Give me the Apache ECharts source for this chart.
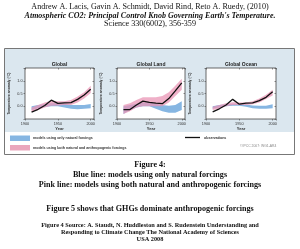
<!DOCTYPE html>
<html><head><meta charset="utf-8">
<script src="https://cdn.jsdelivr.net/npm/echarts@6/dist/echarts.min.js"></script>
<style>html,body{margin:0;padding:0;background:#fff}#c{width:300px;height:249px}</style>
</head><body><div id="c"></div>
<script>
const years = [1910,1920,1930,1940,1950,1960,1970,1980,1990,2000];
const panelTitles = ['Global','Global Land','Global Ocean'];
const xTicks = [1900,1950,2000];
const yTicks = ['0.0','0.5','1.0'];

const obsGlobal   = [-0.23,-0.12,0.03,0.24,0.11,0.13,0.14,0.27,0.44,0.67];
const natGlobalLo = [-0.15,-0.08,-0.03,0.00,0.00,-0.05,-0.10,-0.12,-0.10,-0.08];
const natGlobalHi = [0.00,0.05,0.08,0.12,0.13,0.10,0.05,0.05,0.05,0.09];
const allGlobalLo = [-0.22,-0.15,-0.05,0.02,0.03,0.05,0.05,0.15,0.30,0.52];
const allGlobalHi = [-0.05,0.05,0.15,0.22,0.20,0.20,0.25,0.38,0.55,0.80];

const obsLand   = [-0.13,-0.13,0.05,0.20,0.15,0.12,0.10,0.30,0.60,0.92];
const natLandLo = [-0.30,-0.15,-0.05,0.00,0.00,-0.10,-0.20,-0.25,-0.25,-0.15];
const natLandHi = [0.00,0.05,0.10,0.15,0.15,0.10,0.05,0.02,0.05,0.20];
const allLandLo = [-0.30,-0.20,-0.05,0.00,0.00,0.00,0.00,0.15,0.40,0.65];
const allLandHi = [0.05,0.12,0.25,0.35,0.35,0.35,0.40,0.55,0.80,1.08];

const obsOcean   = [-0.22,-0.10,0.05,0.27,0.08,0.12,0.13,0.22,0.35,0.57];
const natOceanLo = [-0.10,-0.05,0.00,0.02,0.02,-0.02,-0.08,-0.10,-0.10,-0.08];
const natOceanHi = [0.00,0.05,0.08,0.10,0.10,0.07,0.03,0.02,0.02,0.08];
const allOceanLo = [-0.15,-0.10,0.00,0.05,0.05,0.05,0.08,0.15,0.28,0.42];
const allOceanHi = [-0.02,0.05,0.12,0.16,0.15,0.15,0.20,0.30,0.45,0.65];

const panels = [
  {obs:obsGlobal, nLo:natGlobalLo, nHi:natGlobalHi, aLo:allGlobalLo, aHi:allGlobalHi, left:25, width:69},
  {obs:obsLand, nLo:natLandLo, nHi:natLandHi, aLo:allLandLo, aHi:allLandHi, left:117, width:68},
  {obs:obsOcean, nLo:natOceanLo, nHi:natOceanHi, aLo:allOceanLo, aHi:allOceanHi, left:206, width:70}
];
const TOP = 68, H = 51;
const BLUE = '#86b6e2', PINK = 'rgba(234,150,182,0.75)';
const sans = 'Liberation Sans';
const serif = 'Liberation Serif';

const grid = [], xAxis = [], yAxis = [], series = [], graphic = [];
const pair = (arr) => years.map((y,i)=>[y,arr[i]]);

function bandSeries(lo, hi, xi, yi, color, z){
  return {type:'custom', xAxisIndex:xi, yAxisIndex:yi, z:z, silent:true,
    encode:{x:0, y:[1,2]},
    data: years.map((y,i)=>[y, lo[i], hi[i]]),
    renderItem: function(params, api){
      if (params.dataIndex !== 0) return null;
      const pts = [];
      for (let i=0;i<years.length;i++) pts.push(api.coord([years[i], hi[i]]));
      for (let i=years.length-1;i>=0;i--) pts.push(api.coord([years[i], lo[i]]));
      return {type:'polygon', shape:{points:pts}, style:{fill:color, stroke:null}};
    }};
}

panels.forEach((p,k)=>{
  grid.push({left:p.left, top:TOP, width:p.width, height:H, show:true, backgroundColor:'#fff', borderColor:'#444', borderWidth:0.8, containLabel:false});
  const xBase = {type:'value', min:1900, max:2005, interval:50, gridIndex:k, splitLine:{show:false}, axisLine:{show:false, onZero:false}};
  xAxis.push(Object.assign({}, xBase, {position:'bottom',
    axisTick:{show:true, inside:false, length:1.5, lineStyle:{color:'#444', width:0.6}},
    axisLabel:{show:true, fontSize:3.8, color:'#333', fontFamily:sans, margin:2.5, formatter:v=>xTicks.includes(v)?String(v):''},
    name:'Year', nameLocation:'middle', nameGap:8, nameTextStyle:{fontSize:4, fontWeight:'bold', color:'#333', fontFamily:sans}}));
  xAxis.push(Object.assign({}, xBase, {position:'top', axisTick:{show:true, inside:true, length:1.5, lineStyle:{color:'#444', width:0.6}}, axisLabel:{show:false}}));
  const yBase = {type:'value', min:-0.5, max:1.5, interval:0.5, gridIndex:k, splitLine:{show:false}, axisLine:{show:false, onZero:false}};
  yAxis.push(Object.assign({}, yBase, {position:'left',
    axisTick:{show:true, inside:false, length:1.5, lineStyle:{color:'#444', width:0.6}},
    axisLabel:{show:true, fontSize:3.8, color:'#333', fontFamily:sans, margin:2.5, formatter:v=>{const s=v.toFixed(1);return yTicks.includes(s)?s:'';}},
    name:'Temperature anomaly (°C)', nameLocation:'middle', nameRotate:90, nameGap:14,
    nameTextStyle:{fontSize:3.4, fontWeight:'bold', color:'#333', fontFamily:sans}}));
  yAxis.push(Object.assign({}, yBase, {position:'right', axisTick:{show:true, inside:true, length:1.5, lineStyle:{color:'#444', width:0.6}}, axisLabel:{show:false}}));
  const xi = 2*k, yi = 2*k;
  series.push(bandSeries(p.nLo, p.nHi, xi, yi, BLUE, 2));
  series.push(bandSeries(p.aLo, p.aHi, xi, yi, PINK, 3));
  series.push({type:'line', xAxisIndex:xi, yAxisIndex:yi, symbol:'none', data:pair(p.obs), lineStyle:{color:'#111', width:1.3}, z:5, silent:true});
  graphic.push({type:'text', x:p.left+p.width/2, y:TOP-3.5, z:10,
    style:{text:panelTitles[k], font:'bold 5px '+sans, fill:'#222', textAlign:'center', textVerticalAlign:'middle'}});
});

graphic.unshift(
  {type:'rect', z:-10, shape:{x:4.5, y:48.5, width:290, height:106}, style:{fill:'#fff', stroke:'#777', lineWidth:1}},
  {type:'rect', z:-9, shape:{x:5, y:49, width:289, height:83}, style:{fill:'#dbe7ef'}}
);
graphic.push(
  {type:'rect', shape:{x:10, y:135.5, width:20, height:5.5}, style:{fill:BLUE}},
  {type:'rect', shape:{x:10, y:145, width:20, height:5.5}, style:{fill:'#eaa6bd'}},
  {type:'text', x:33, y:138.3, style:{text:'models using only natural forcings', font:'bold 3.6px '+sans, fill:'#333', textVerticalAlign:'middle'}},
  {type:'text', x:33, y:147.8, style:{text:'models using both natural and anthropogenic forcings', font:'bold 3.6px '+sans, fill:'#333', textVerticalAlign:'middle'}},
  {type:'line', shape:{x1:185, y1:137.5, x2:200, y2:137.5}, style:{stroke:'#111', lineWidth:1.3}},
  {type:'text', x:204, y:137.5, style:{text:'observations', font:'bold 3.6px '+sans, fill:'#333', textVerticalAlign:'middle'}},
  {type:'text', x:240, y:146.5, style:{text:'©IPCC 2007: WG1-AR4', font:'3.4px '+sans, fill:'#888', textVerticalAlign:'middle'}}
);
const txt = (s,y,font)=>({type:'text', x:150, y:y, style:{text:s, font:font, fill:'#111', textAlign:'center', textVerticalAlign:'middle'}});
graphic.push(
  txt('Andrew A. Lacis, Gavin A. Schmidt, David Rind, Reto A. Ruedy, (2010)', 7, '8.1px '+serif),
  txt("Atmospheric CO2: Principal Control Knob Governing Earth's Temperature.", 15.5, 'italic bold 8px '+serif),
  txt('Science 330(6002), 356-359', 24, '8.1px '+serif),
  txt('Figure 4:', 165, 'bold 8.1px '+serif),
  txt('Blue line: models using only natural forcings', 175, 'bold 8.1px '+serif),
  txt('Pink line: models using both natural and anthropogenic forcings', 185, 'bold 8.1px '+serif),
  txt('Figure 5 shows that GHGs dominate anthropogenic forcings', 209, 'bold 8.1px '+serif),
  txt('Figure 4 Source: A. Staudt, N. Huddleston and S. Rudenstein Understanding and', 225.5, 'bold 6.3px '+serif),
  txt('Responding to Climate Change The National Academy of Sciences', 232.5, 'bold 6.3px '+serif),
  txt('USA 2008', 239.5, 'bold 6.3px '+serif)
);

const chart = echarts.init(document.getElementById('c'), null, {renderer:'canvas'});
chart.setOption({animation:false, grid, xAxis, yAxis, series, graphic});
</script></body></html>
